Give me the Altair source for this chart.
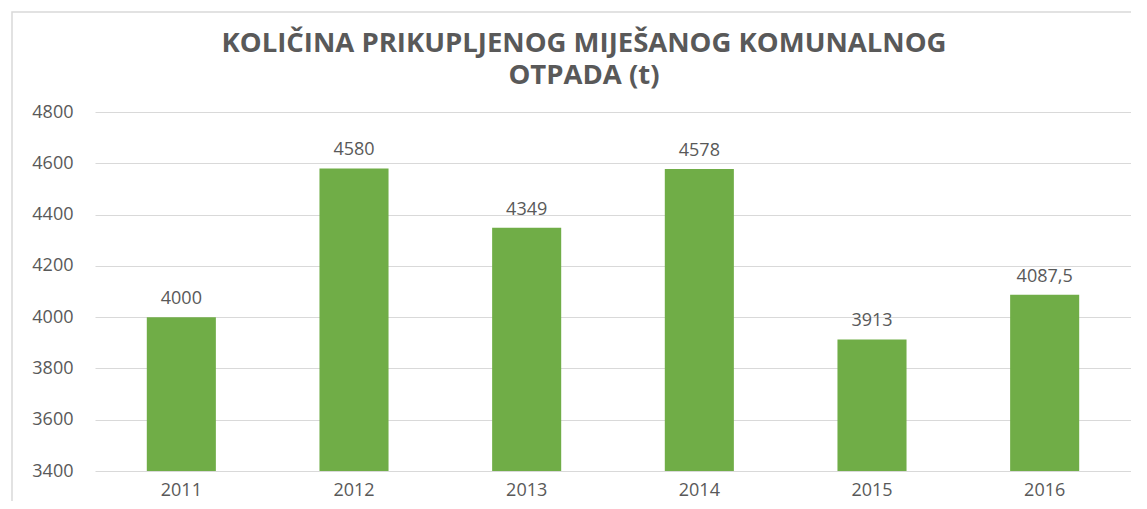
import altair as alt
import pandas as pd

years = ["2011", "2012", "2013", "2014", "2015", "2016"]
values = [4000, 4580, 4349, 4578, 3913, 4087.5]
y_ticks = [3400, 3600, 3800, 4000, 4200, 4400, 4600, 4800]
title_lines = ["KOLIČINA PRIKUPLJENOG MIJEŠANOG KOMUNALNOG", "OTPADA (t)"]

df = pd.DataFrame({"year": years, "value": values})

W, H = 1036, 359
FONT = "Open Sans"
GREY = "#595959"

frame = alt.Chart(alt.Data(values=[{"a": 1}])).mark_rect(
    fillOpacity=0, stroke="#d9d9d9", strokeWidth=1.5
).encode(
    x=alt.value(-83), x2=alt.value(W + 200),
    y=alt.value(-100), y2=alt.value(H + 200),
)

title1 = alt.Chart(alt.Data(values=[{"t": title_lines[0]}])).mark_text(
    font=FONT, fontSize=27.5, fontWeight="bold", color=GREY, baseline="alphabetic", align="center"
).encode(x=alt.value(489), y=alt.value(-60), text="t:N")

title2 = alt.Chart(alt.Data(values=[{"t": title_lines[1]}])).mark_text(
    font=FONT, fontSize=27.5, fontWeight="bold", color=GREY, baseline="alphabetic", align="center"
).encode(x=alt.value(489), y=alt.value(-28), text="t:N")

base = alt.Chart(df)

bars = base.mark_bar(color="#70AD47", clip=True).encode(
    x=alt.X("year:N", title=None, sort=years,
            scale=alt.Scale(paddingInner=0.6, paddingOuter=0.3),
            axis=alt.Axis(labelAngle=0, domain=False, ticks=False, labelPadding=10,
                          labelFont=FONT, labelFontSize=18, labelColor=GREY)),
    y=alt.Y("value:Q", title=None,
            scale=alt.Scale(domain=[3400, 4800], zero=False, nice=False),
            axis=alt.Axis(values=y_ticks, format="d", domain=False, ticks=False, labelPadding=22,
                          grid=True, gridColor="#d9d9d9", gridWidth=1.2,
                          labelFont=FONT, labelFontSize=18, labelColor=GREY)),
)

labels = base.transform_calculate(
    lab="replace(toString(datum.value), '.', ',')"
).mark_text(dy=-13, baseline="alphabetic", font=FONT, fontSize=18, color=GREY).encode(
    x=alt.X("year:N", sort=years),
    y="value:Q",
    text="lab:N",
)

chart = alt.layer(frame, bars, labels, title1, title2).properties(
    width=W, height=H,
    padding={"left": 87, "top": 104, "right": 0, "bottom": 30},
    autosize=alt.AutoSizeParams(type="none"),
).configure_view(stroke=None)

chart.save("out.html", embed_options={"renderer": "svg", "actions": False})
